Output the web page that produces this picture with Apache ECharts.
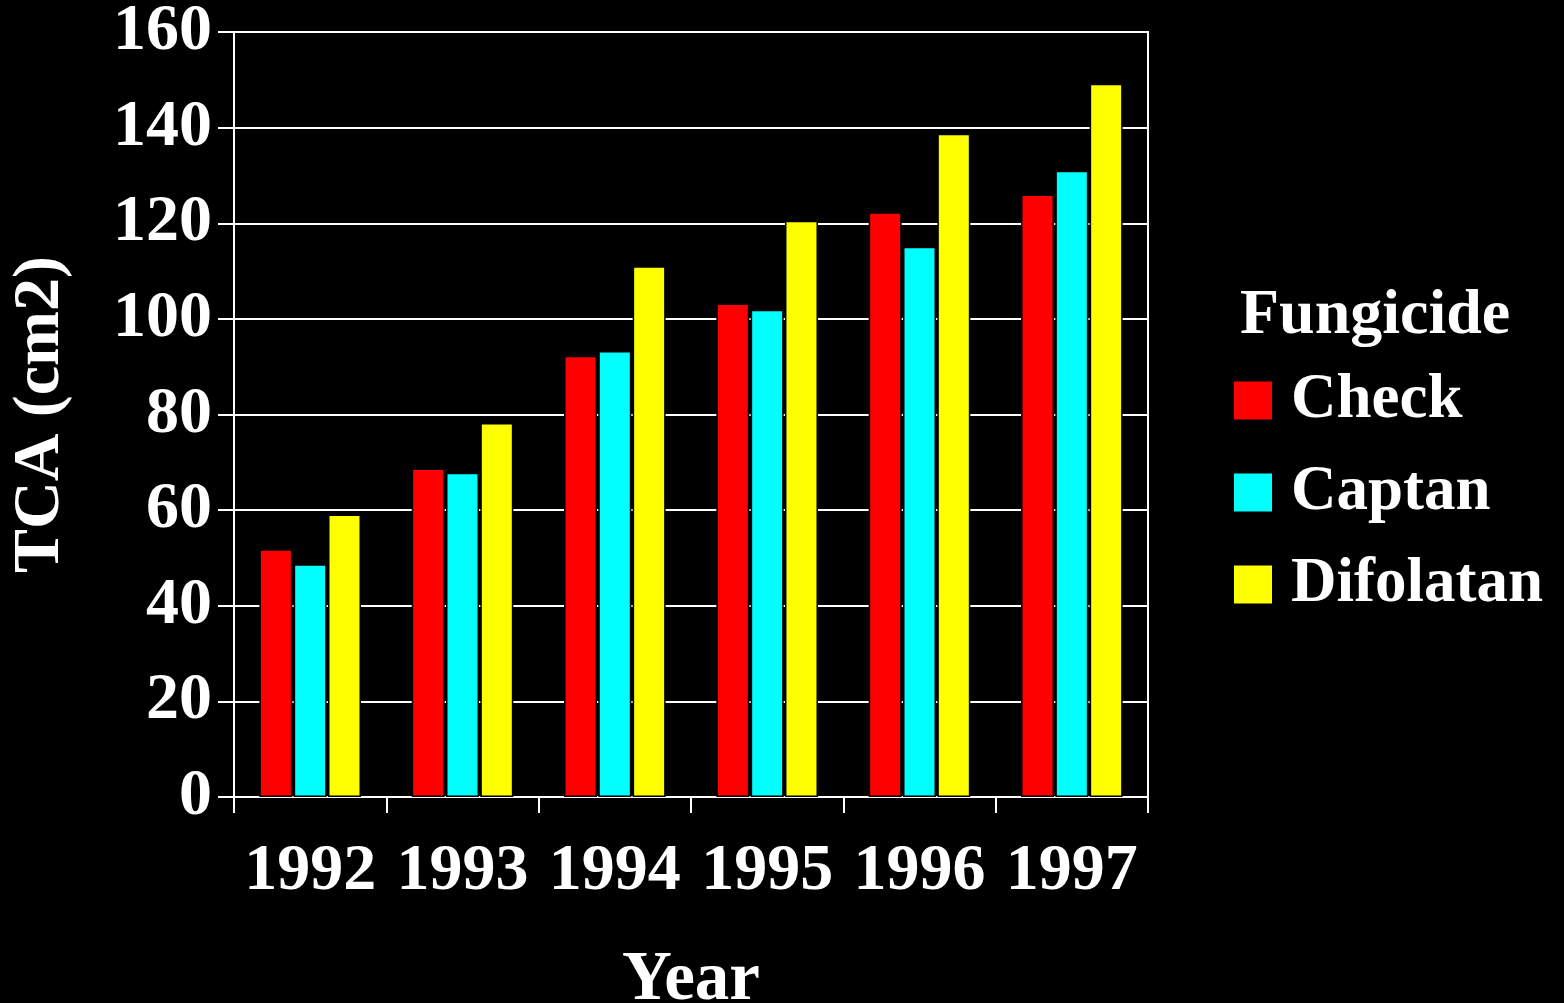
<!DOCTYPE html>
<html>
<head>
<meta charset="utf-8">
<script src="https://cdn.jsdelivr.net/npm/echarts@6/dist/echarts.min.js"></script>
<style>
html,body{margin:0;padding:0;background:#000;}
#chart{width:1564px;height:1003px;}
</style>
</head>
<body>
<div id="chart"></div>
<script>
const years = ['1992','1993','1994','1995','1996','1997'];
const seriesNames = ['Check','Captan','Difolatan'];
const check = [51.8, 68.7, 92.3, 103.2, 122.3, 126.0];
const captan = [48.7, 67.8, 93.3, 101.9, 115.1, 131.0];
const difolatan = [59.1, 78.2, 111.0, 120.5, 138.7, 149.2];
const colors = ['#ff0000', '#00ffff', '#ffff00'];

const font = 'Liberation Serif, Times New Roman, serif';
const chart = echarts.init(document.getElementById('chart'));
const dataSets = [check, captan, difolatan];
chart.setOption({
  backgroundColor: '#000',
  animation: false,
  title: {
    text: 'Fungicide', left: 1240, top: 284, padding: 0,
    textStyle: {color: '#fff', fontFamily: font, fontWeight: 'bold', fontSize: 64}
  },
  legend: {
    orient: 'vertical', left: 1232, top: 369, padding: 0,
    icon: 'rect', itemWidth: 40, itemHeight: 40, itemGap: 29,
    data: seriesNames,
    textStyle: {color: '#fff', fontFamily: font, fontWeight: 'bold', fontSize: 63, padding: [0,0,0,13]}
  },
  grid: {left: 234, right: 416, top: 32, bottom: 206, outerBoundsMode: 'none', containLabel: false,
         show: true, borderColor: '#fff', borderWidth: 2, backgroundColor: 'transparent'},
  xAxis: {
    type: 'category', data: years,
    name: 'Year', nameLocation: 'middle', nameGap: 150,
    nameTextStyle: {color: '#fff', fontFamily: font, fontWeight: 'bold', fontSize: 69},
    axisLine: {lineStyle: {color: '#fff', width: 2}},
    axisTick: {show: true, length: 16, lineStyle: {color: '#fff', width: 2}},
    axisLabel: {color: '#fff', fontFamily: font, fontWeight: 'bold', fontSize: 66, margin: 42, interval: 0}
  },
  yAxis: {
    type: 'value', min: 0, max: 160, interval: 20,
    name: 'TCA (cm2)', nameLocation: 'middle', nameGap: 160,
    nameTextStyle: {color: '#fff', fontFamily: font, fontWeight: 'bold', fontSize: 66},
    axisLine: {show: true, lineStyle: {color: '#fff', width: 2}},
    axisTick: {show: true, length: 16, lineStyle: {color: '#fff', width: 2}},
    axisLabel: {color: '#fff', fontFamily: font, fontWeight: 'bold', fontSize: 66, margin: 22},
    splitLine: {show: true, lineStyle: {color: '#fff', width: 2}}
  },
  series: seriesNames.map((n, i) => ({
    name: n, type: 'bar', data: dataSets[i],
    barWidth: 33, barGap: '4%',
    itemStyle: {color: colors[i], borderColor: '#000', borderWidth: 1.5}
  }))
});
</script>
</body>
</html>
